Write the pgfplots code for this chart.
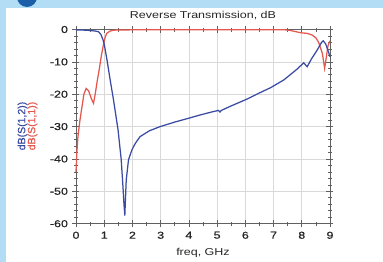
\documentclass[border=0pt]{standalone}
\usepackage{pgfplots}
\pgfplotsset{compat=1.18}
\usepackage{fontspec}
\setmainfont{Liberation Sans}[FakeStretch=1.25]
\newfontfamily\boldishfont{Liberation Sans}[FakeStretch=1.25, FakeBold=0.6]
\newfontfamily\plainfont{Liberation Sans}[FakeBold=0.4]
\definecolor{sblue}{HTML}{3A4AA2}
\definecolor{sred}{HTML}{E5574D}
\definecolor{bgblue}{HTML}{B2DDF5}
\definecolor{dkblue}{HTML}{1C5FA8}
\begin{document}
\begin{tikzpicture}[x=1pt,y=1pt]
\path[use as bounding box] (0,0) rectangle (384,262);
\clip (0,0) rectangle (384,262);
\fill[bgblue] (0,0) rectangle (384,262);
\fill[white] (6,0) rectangle (383,254);
\fill[dkblue] (27,265) circle (10);
\begin{axis}[
  at={(76pt,38.3pt)}, anchor=south west,
  width=254pt, height=194.2pt, scale only axis,
  xmin=0, xmax=9, ymin=-60, ymax=0,
  xtick={0,1,...,9}, ytick={-60,-50,...,0},
  minor x tick num=1, minor y tick num=4,
  tick align=center,
  major tick length=7pt, minor tick length=4pt,
  grid=major,
  major grid style={draw=gray!30, line width=0.6pt},
  axis line style={draw=gray!75!black, line width=0.8pt},
  every tick/.style={draw=gray!75!black, line width=0.7pt},
  /pgf/number format/assume math mode=true,
  ticklabel style={font=\boldishfont\fontsize{10}{12}\selectfont, text=black!85},
  xticklabel style={yshift=-1pt},
  yticklabel style={xshift=-1pt},
  clip=false,
]
\addplot[sred, line width=1.25pt] coordinates {
(0,-44) (0.03,-38) (0.07,-33) (0.14,-28) (0.21,-24) (0.28,-20) (0.36,-18.2)
(0.45,-19) (0.55,-21.5) (0.62,-22.8) (0.68,-20) (0.75,-16) (0.83,-12)
(0.9,-8) (0.97,-4.8) (1.03,-2.5) (1.09,-1.2) (1.2,-0.5) (1.33,-0.2)
(2,-0.1) (5,-0.1) (7.4,-0.1) (7.6,-0.3) (7.96,-1.0) (8.19,-1.2) (8.37,-1.7)
(8.5,-2.6) (8.6,-4) (8.73,-7.4) (8.81,-12.0) (8.87,-8.5) (8.93,-5) (9.0,-3.5)
};
\addplot[sblue, line width=1.25pt] coordinates {
(0,-0.1) (0.3,-0.2) (0.5,-0.3) (0.7,-0.5) (0.8,-0.7) (0.88,-1.5) (0.95,-3)
(1.0,-4.5) (1.1,-9.5) (1.2,-15) (1.33,-21.8) (1.49,-31) (1.6,-40) (1.66,-48)
(1.70,-54) (1.73,-57.5) (1.75,-53) (1.78,-46.5) (1.86,-40.3) (1.98,-37.2)
(2.1,-35.2) (2.27,-33.1) (2.6,-31.3) (2.98,-30.0) (3.5,-28.6) (4.0,-27.4)
(4.4,-26.4) (4.8,-25.5) (5.05,-25.0) (5.1,-25.5) (5.15,-25.0) (5.5,-23.6)
(6.06,-21.5) (6.5,-19.6) (6.89,-18.0) (7.36,-15.6) (7.8,-12.5) (8.07,-10.3)
(8.19,-11.5) (8.35,-9) (8.55,-6.3) (8.7,-4.0) (8.76,-3.5) (8.85,-4.5)
(8.95,-7) (9.0,-8.4)
};
\end{axis}
\node[font=\fontsize{10}{12}\selectfont, text=black!85] at (203,246) {Reverse Transmission, dB};
\node[font=\fontsize{10}{12}\selectfont, text=black!85] at (203,9) {freq, GHz};
\node[rotate=90, font=\plainfont\fontsize{10.5}{12}\selectfont, text=sblue] at (22.5,136) {dB(S(1,2))};
\node[rotate=90, font=\plainfont\fontsize{10.5}{12}\selectfont, text=sred] at (32.5,136) {dB(S(1,1))};
\end{tikzpicture}
\end{document}
